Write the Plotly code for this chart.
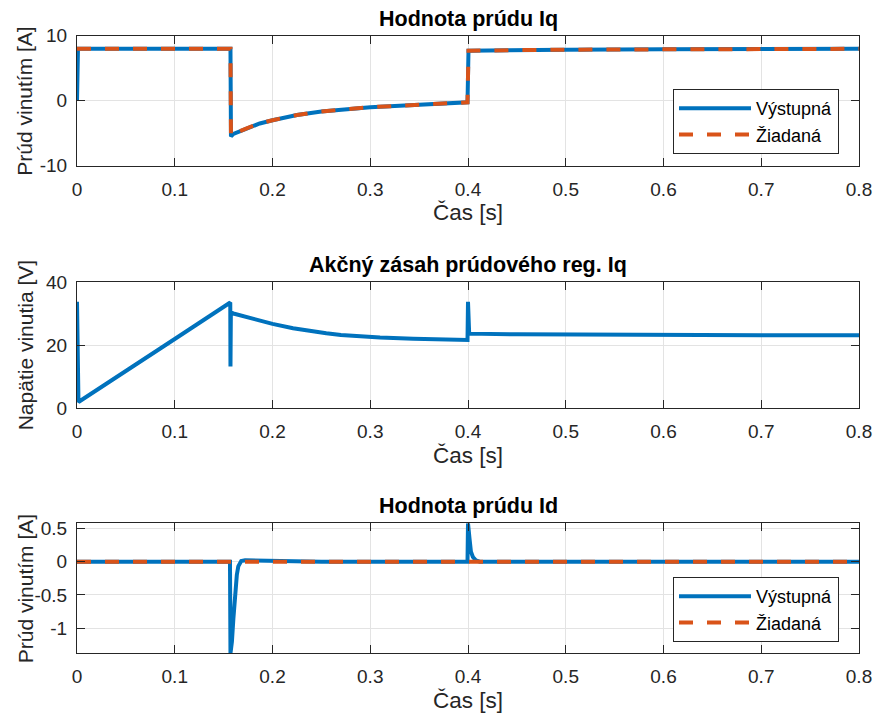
import plotly.graph_objects as go

# ---- data ----
iq_t = [0, 0.001, 0.157, 0.1575, 0.16, 0.1736, 0.18, 0.187, 0.2, 0.225, 0.25, 0.275, 0.3, 0.325,
        0.35, 0.375, 0.3995, 0.4005, 0.45, 0.5, 0.6, 0.7, 0.8]
iq_out = [0, 8.0, 8.0, -5.5, -5.1, -4.25, -3.9, -3.5, -3.0, -2.2, -1.65, -1.3, -1.0, -0.82,
          -0.66, -0.45, -0.25, 7.7, 7.8, 7.85, 7.9, 7.95, 7.98]
iq_ref = [8.0, 8.0, 8.0, -5.5, -5.1, -4.25, -3.9, -3.5, -3.0, -2.2, -1.65, -1.3, -1.0, -0.82,
          -0.66, -0.45, -0.25, 7.7, 7.8, 7.85, 7.9, 7.95, 7.98]

v_t = [0, 0.0015, 0.1, 0.1568, 0.157, 0.1574, 0.16, 0.175, 0.187, 0.2, 0.221, 0.24, 0.255, 0.27,
       0.289, 0.31, 0.344, 0.37, 0.3995, 0.4, 0.4012, 0.45, 0.5, 0.6, 0.7, 0.8]
v_out = [33.8, 2.0, 22.0, 33.6, 13.3, 30.4, 30.1, 28.8, 27.8, 26.8, 25.4, 24.4, 23.8, 23.3,
         22.8, 22.45, 22.1, 21.85, 21.7, 33.8, 23.7, 23.5, 23.4, 23.3, 23.2, 23.2]

id_t = [0, 0.1565, 0.157, 0.1585, 0.160, 0.161, 0.162, 0.1635, 0.165, 0.168, 0.172, 0.19, 0.22,
        0.25, 0.3995, 0.4, 0.4015, 0.403, 0.405, 0.408, 0.412, 0.8]
id_out = [0, 0, -1.375, -1.2, -0.85, -0.6, -0.4, -0.2, -0.07, 0.01, 0.02, 0.015, 0.005,
          0, 0, 0.575, 0.35, 0.15, 0.07, 0.02, 0, 0]
id_ref_t = [0, 0.8]
id_ref = [0, 0]

titles = ["Hodnota prúdu Iq", "Akčný zásah prúdového reg. Iq", "Hodnota prúdu Id"]
ylabels = ["Prúd vinutím [A]", "Napätie vinutia [V]", "Prúd vinutím [A]"]
xlabel = "Čas [s]"
legend_names = ["Výstupná", "Žiadaná"]

x_ticks = [0, 0.1, 0.2, 0.3, 0.4, 0.5, 0.6, 0.7, 0.8]
y1_ticks = [-10, 0, 10]
y2_ticks = [0, 20, 40]
y3_ticks = [-1, -0.5, 0, 0.5]

BLUE = "#0072BD"
ORANGE = "#D95319"
FONT = "Liberation Sans, Arial, Helvetica, sans-serif"
W, H = 874, 715
L, R = 77, 859

fig = go.Figure()

fig.add_trace(go.Scatter(x=iq_t, y=iq_out, mode="lines", name=legend_names[0],
                         line=dict(color=BLUE, width=4), xaxis="x", yaxis="y", legend="legend"))
fig.add_trace(go.Scatter(x=iq_t, y=iq_ref, mode="lines", name=legend_names[1],
                         line=dict(color=ORANGE, width=4, dash="14px,14px"), xaxis="x", yaxis="y",
                         legend="legend"))
fig.add_trace(go.Scatter(x=v_t, y=v_out, mode="lines", showlegend=False,
                         line=dict(color=BLUE, width=4), xaxis="x2", yaxis="y2"))
fig.add_trace(go.Scatter(x=id_t, y=id_out, mode="lines", name=legend_names[0],
                         line=dict(color=BLUE, width=4), xaxis="x3", yaxis="y3", legend="legend2"))
fig.add_trace(go.Scatter(x=id_ref_t, y=id_ref, mode="lines", name=legend_names[1],
                         line=dict(color=ORANGE, width=4, dash="14px,14px"), xaxis="x3", yaxis="y3",
                         legend="legend2"))

# pixel boxes (top, bottom) of each axes
boxes = [(35.7, 165.7), (282.3, 408.3), (523.3, 653.3)]
ranges = [[-10, 10], [0, 40], [-1.375, 0.575]]
yticks = [y1_ticks, y2_ticks, y3_ticks]

axcommon = dict(showline=True, linecolor="#262626", linewidth=1, mirror="ticks",
                ticks="inside", ticklen=8, tickcolor="#262626", tickwidth=1,
                showgrid=True, gridcolor="#e3e3e3", gridwidth=1, zeroline=False,
                automargin=False,
                tickfont=dict(family=FONT, size=19, color="#262626"))

layout = dict(width=W, height=H, margin=dict(l=L, r=W - R, t=0, b=0, autoexpand=False),
              plot_bgcolor="white", paper_bgcolor="white",
              font=dict(family=FONT, color="#262626"))

annotations = []
for i in range(3):
    top, bot = boxes[i]
    sfx = "" if i == 0 else str(i + 1)
    dom = [1 - bot / H, 1 - top / H]
    layout["xaxis" + sfx] = dict(axcommon, domain=[0, 1], range=[0, 0.8], tickvals=x_ticks,
                                 ticktext=[("%g" % v) for v in x_ticks], anchor="y" + sfx,
                                 ticklabelstandoff=6)
    layout["yaxis" + sfx] = dict(axcommon, domain=dom, range=ranges[i], tickvals=yticks[i],
                                 ticktext=[("%g" % v) for v in yticks[i]], anchor="x" + sfx,
                                 ticklabelstandoff=5)
    # title
    annotations.append(dict(text="<b>%s</b>" % titles[i], xref="paper", yref="paper",
                            x=0.5, y=1 - (top - 17) / H, xanchor="center", yanchor="middle",
                            showarrow=False, font=dict(family=FONT, size=21.5, color="black")))
    # x label
    annotations.append(dict(text=xlabel, xref="paper", yref="paper",
                            x=0.5, y=1 - (bot + 47) / H, xanchor="center", yanchor="middle",
                            showarrow=False, font=dict(family=FONT, size=22.5, color="#262626")))
    # y label
    annotations.append(dict(text=ylabels[i], xref="paper", yref="paper", textangle=-90,
                            x=(25 - L) / (R - L), y=1 - ((top + bot) / 2) / H,
                            xanchor="center", yanchor="middle",
                            showarrow=False, font=dict(family=FONT, size=21, color="#262626")))

layout["annotations"] = annotations

leg = dict(xanchor="right", yanchor="top", bgcolor="white", bordercolor="#262626", borderwidth=1,
           font=dict(family=FONT, size=18, color="black"), itemwidth=72, tracegroupgap=0)
layout["legend"] = dict(leg, x=(839 - L) / (R - L), y=1 - 89 / H)
layout["legend2"] = dict(leg, x=(839 - L) / (R - L), y=1 - 577 / H)

fig.update_layout(**layout)
fig.write_html("out.html", config={"displayModeBar": False},
               post_script="document.body.style.margin='0';document.body.style.overflow='hidden';")
